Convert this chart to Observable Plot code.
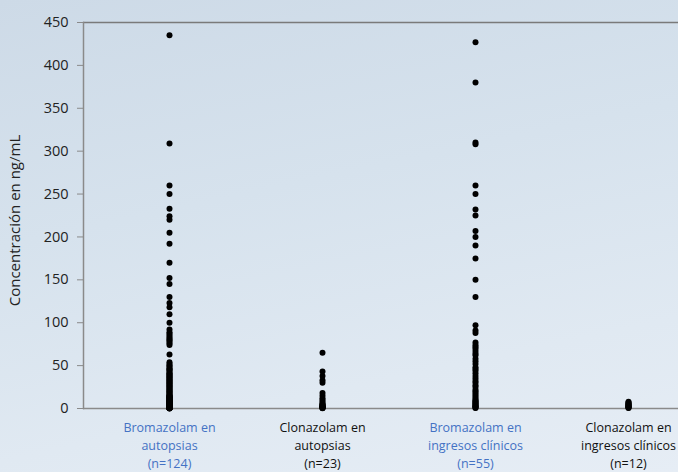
<!DOCTYPE html>
<html><head><meta charset="utf-8">
<script src="https://cdn.jsdelivr.net/npm/d3@7"></script>
<script src="https://cdn.jsdelivr.net/npm/@observablehq/plot@0.6"></script>
<style>
html,body{margin:0;padding:0;}
body{width:678px;height:472px;overflow:hidden;background:linear-gradient(168deg,#cddae7 0%,#d6e2ed 40%,#e0e9f2 75%,#e6edf5 100%);}
</style></head><body><div id="chart"></div>
<script>
const categories = ["bromAut", "clonAut", "bromIng", "clonIng"];
const categoryLabels = [
  "Bromazolam en\nautopsias\n(n=124)",
  "Clonazolam en\nautopsias\n(n=23)",
  "Bromazolam en\ningresos clínicos\n(n=55)",
  "Clonazolam en\ningresos clínicos\n(n=12)"
];
const labelColors = ["#4472c4", "#111111", "#4472c4", "#111111"];
const yTicks = [0, 50, 100, 150, 200, 250, 300, 350, 400, 450];

const bromAut = [435, 309, 260, 250, 233, 224, 220, 205, 192, 170, 152, 145, 130, 123, 118, 110, 100, 92,
  89, 87, 85, 83, 81, 80, 78, 76, 74, 63,
  54, 52, 50, 49, 47, 46, 45, 44, 42, 41,
  40, 39, 38, 37, 36, 35, 34, 33, 32, 31,
  30, 29, 28, 27, 26, 25, 24, 23, 22, 21,
  20, 19, 18, 17, 16, 15, 15, 14, 14, 13,
  13, 12, 12, 11, 11, 10, 10, 9, 9, 9,
  8, 8, 8, 7, 7, 7, 6, 6, 6, 5,
  5, 5, 5, 4, 4, 4, 4, 3, 3, 3,
  3, 3, 2, 2, 2, 2, 2, 2, 1.5, 1.5,
  1.5, 1, 1, 1, 1, 1, 0.8, 0.8, 0.6, 0.6,
  0.5, 0.5, 0.4, 0.3, 0.2, 0.1];
const clonAut = [65, 43, 38, 33, 30, 18, 15, 12, 10, 8, 6, 5, 4, 3.5, 3, 2.5, 2, 1.5, 1.2, 1, 0.8, 0.5, 0.3];
const bromIng = [427, 380, 310, 308, 260, 250, 232, 225, 207, 200, 190, 175, 150, 130, 97, 91, 88,
  77, 74, 72, 70, 67, 64, 62, 58, 55, 52,
  48, 46, 44, 41, 38, 35, 32, 30, 27, 25,
  22, 20, 18, 16, 14, 12, 10, 9, 8, 7,
  6, 5, 4, 3, 2.5, 2, 1, 0.5];
const clonIng = [8, 7, 6, 5, 4.5, 4, 3, 2.5, 2, 1.5, 1, 0.5];

const series = [bromAut, clonAut, bromIng, clonIng];
const points = series.flatMap((vals, i) => vals.map(v => ({cat: categories[i], value: v})));
const labelRows = categories.map((c, i) => ({cat: c, text: categoryLabels[i], color: labelColors[i]}));

const chart = Plot.plot({
  width: 678, height: 472,
  marginLeft: 83, marginRight: 0, marginTop: 22, marginBottom: 64,
  style: {background: "transparent", fontFamily: "'Open Sans', sans-serif", color: "#222"},
  x: {type: "point", domain: categories, range: [168, 628], padding: 0, axis: null},
  y: {domain: [0, 450], ticks: yTicks},
  marks: [
    Plot.ruleY([450], {stroke: "#7a7a7a", strokeWidth: 1.5}),
    Plot.ruleY([0], {stroke: "#8a8a8a", strokeWidth: 1.5}),
    Plot.frame({anchor: "left", stroke: "#8a8a8a", strokeWidth: 1.5}),
    Plot.axisY({ticks: yTicks, tickSize: 6, tickPadding: 9, fontSize: 14.5, fill: "#222", stroke: "#8a8a8a", label: null}),
    Plot.text(["Concentración en ng/mL"], {frameAnchor: "left", textAnchor: "middle", dx: -68, dy: 5, rotate: -90, fontSize: 15, fill: "#222"}),
    Plot.text(labelRows, {x: "cat", text: "text", fill: "color", frameAnchor: "bottom", lineAnchor: "top", dy: 11, fontSize: 12.5, lineHeight: 1.44}),
    Plot.dot(points, {x: "cat", y: "value", r: 3, fill: "black"})
  ]
});
document.getElementById("chart").appendChild(chart);
</script></body></html>
